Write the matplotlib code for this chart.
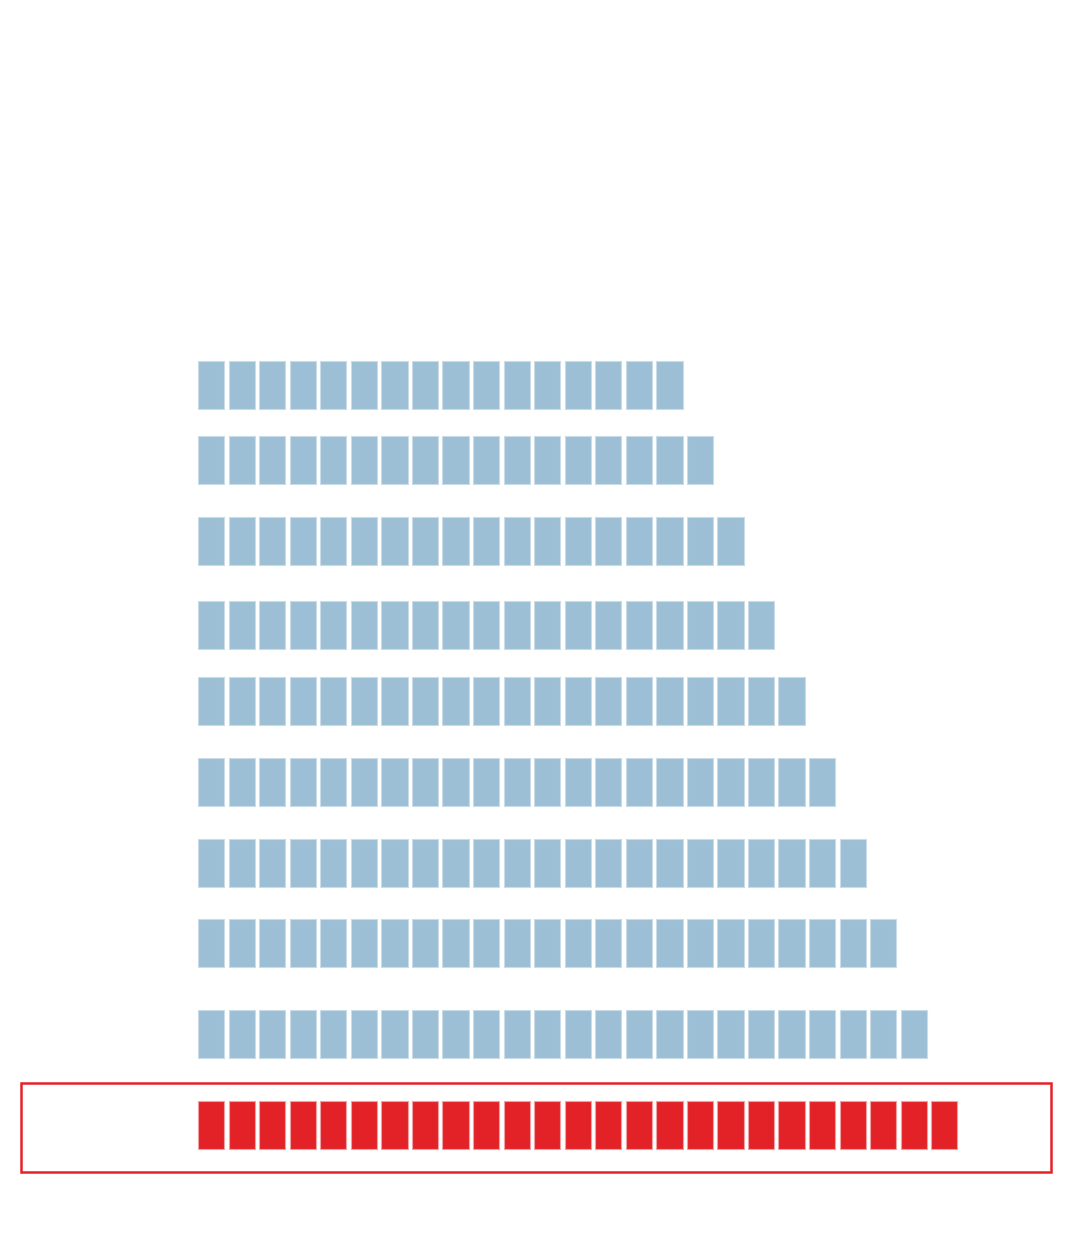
import matplotlib.pyplot as plt
from matplotlib.patches import Rectangle

# number of blocks per row, top to bottom
counts = [16, 17, 18, 19, 20, 21, 22, 23, 24, 25]
highlight = [False] * 9 + [True]
# row centres (pixels from top)
row_y = [385, 460, 541, 625, 701, 782, 863, 943, 1034, 1125]

blue = "#9cbfd5"
red = "#e32228"

fig = plt.figure(figsize=(10.8, 12.6), dpi=100)
ax = fig.add_axes([0, 0, 1, 1])
pitch = 30.55
x0 = 198
ax.set_xlim(-x0 / pitch, (1080 - x0) / pitch)
ax.set_ylim(1260, 0)
ax.axis("off")

bw = 0.86
bh = 48
for n, y, hl in zip(counts, row_y, highlight):
    col = red if hl else blue
    edge = "#f0a0a3" if hl else "#c9dce8"
    ax.bar(range(n), bh, width=bw, bottom=y - bh / 2, align="edge",
           color=col, edgecolor=edge, linewidth=0.8)
    if hl:
        ax.add_patch(Rectangle(((21 - x0) / pitch, y - 42), (1051 - 21) / pitch, 89,
                               fill=False, edgecolor=red, linewidth=1.8))

plt.savefig("out.png", dpi=100, facecolor="white")
plt.close()
